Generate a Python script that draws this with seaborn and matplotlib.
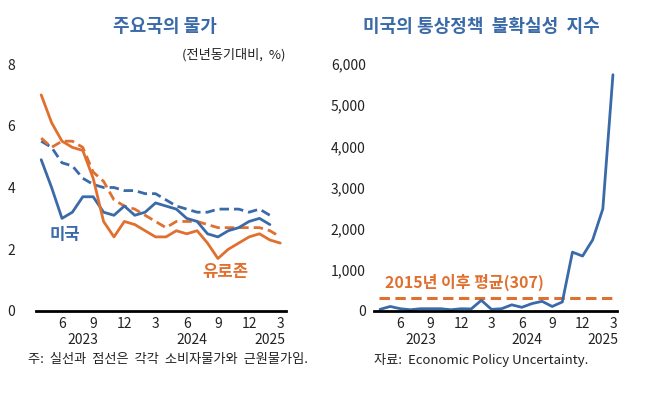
import matplotlib
matplotlib.use("Agg")
import matplotlib.pyplot as plt
import seaborn as sns
import pandas as pd
import numpy as np

# ---- data ----
months = ["2023-04", "2023-05", "2023-06", "2023-07", "2023-08", "2023-09", "2023-10", "2023-11",
          "2023-12", "2024-01", "2024-02", "2024-03", "2024-04", "2024-05", "2024-06", "2024-07",
          "2024-08", "2024-09", "2024-10", "2024-11", "2024-12", "2025-01", "2025-02", "2025-03"]
us_cpi = [4.9, 4.0, 3.0, 3.2, 3.7, 3.7, 3.2, 3.1, 3.4, 3.1, 3.2, 3.5, 3.4, 3.3, 3.0, 2.9,
          2.5, 2.4, 2.6, 2.7, 2.9, 3.0, 2.8, None]
us_core = [5.5, 5.3, 4.8, 4.7, 4.3, 4.1, 4.0, 4.0, 3.9, 3.9, 3.8, 3.8, 3.6, 3.4, 3.3, 3.2,
           3.2, 3.3, 3.3, 3.3, 3.2, 3.3, 3.1, None]
ez_cpi = [7.0, 6.1, 5.5, 5.3, 5.2, 4.3, 2.9, 2.4, 2.9, 2.8, 2.6, 2.4, 2.4, 2.6, 2.5, 2.6,
          2.2, 1.7, 2.0, 2.2, 2.4, 2.5, 2.3, 2.2]
ez_core = [5.6, 5.3, 5.5, 5.5, 5.3, 4.5, 4.2, 3.6, 3.4, 3.3, 3.1, 2.9, 2.7, 2.9, 2.9, 2.9,
           2.8, 2.7, 2.7, 2.7, 2.7, 2.7, 2.6, 2.4]
tpu = [40, 110, 55, 30, 55, 55, 55, 30, 55, 50, 260, 40, 55, 150, 90, 180,
       235, 110, 220, 1430, 1335, 1730, 2480, 5740]
tpu_avg = 307

month_ticks = [2, 5, 8, 11, 14, 17, 20, 23]
month_labels = ["6", "9", "12", "3", "6", "9", "12", "3"]
year_labels = ["2023", "2024", "2025"]
year_pos = [4.0, 14.5, 22.0]

BLUE = "#3b6aa8"
ORANGE = "#e0702f"

sns.set_theme(style="white")
plt.rcParams["font.family"] = ["Noto Sans CJK KR", "DejaVu Sans"]

idx = np.arange(len(months))
df = pd.DataFrame({"i": idx, "us_cpi": us_cpi, "us_core": us_core,
                   "ez_cpi": ez_cpi, "ez_core": ez_core, "tpu": tpu})
df = df.astype(float)

fig = plt.figure(figsize=(6.48, 3.94), dpi=100)
axL = fig.add_axes([36 / 648, 83 / 394, 250 / 648, 247 / 394])
axR = fig.add_axes([374 / 648, 83 / 394, 243 / 648, 247 / 394])

lw = 2.0
dash = (3.4, 1.8)
sns.lineplot(data=df, x="i", y="us_core", ax=axL, color=BLUE, lw=lw)
axL.lines[-1].set_dashes(dash)
sns.lineplot(data=df, x="i", y="ez_core", ax=axL, color=ORANGE, lw=lw)
axL.lines[-1].set_dashes(dash)
sns.lineplot(data=df, x="i", y="us_cpi", ax=axL, color=BLUE, lw=lw)
sns.lineplot(data=df, x="i", y="ez_cpi", ax=axL, color=ORANGE, lw=lw)

sns.lineplot(data=df, x="i", y="tpu", ax=axR, color=BLUE, lw=lw, zorder=3)
axR.hlines(tpu_avg, -0.1, 23.4, colors=ORANGE, lw=2.2, linestyles=(0, (3.4, 1.8)), zorder=2)

axL.set_xlim(-0.5, 23.55)
axL.set_ylim(0, 8)
axL.set_yticks([0, 2, 4, 6, 8])
axR.set_xlim(-0.6, 23.4)
axR.set_ylim(0, 6000)
axR.set_yticks(range(0, 7000, 1000))
axR.set_yticklabels([f"{v:,}" for v in range(0, 7000, 1000)])

for ax in (axL, axR):
    ax.set_xlabel("")
    ax.set_ylabel("")
    for s in ("top", "right", "left"):
        ax.spines[s].set_visible(False)
    ax.spines["bottom"].set_color("black")
    ax.spines["bottom"].set_linewidth(2.0)
    ax.spines["bottom"].set_zorder(5)
    ax.set_xticks(month_ticks)
    ax.set_xticklabels(month_labels)
    ax.tick_params(axis="both", length=0, labelsize=10, colors="#222222")
    ax.tick_params(axis="x", pad=4)
    ax.grid(False)
    trans = ax.get_xaxis_transform()
    for lab, p in zip(year_labels, year_pos):
        ax.text(p, -0.118, lab, transform=trans, ha="center", va="center",
                fontsize=10, color="#222222")

axL.tick_params(axis="y", pad=15)
axR.tick_params(axis="y", pad=6)

# titles
fig.text(165 / 648, 1 - 27 / 394, "주요국의 물가", ha="center", va="center",
         fontsize=13, fontweight="bold", color=BLUE)
fig.text(481 / 648, 1 - 27 / 394, "미국의 통상정책  불확실성  지수", ha="center", va="center",
         fontsize=13, fontweight="bold", color=BLUE)
fig.text(285 / 648, 1 - 55 / 394, "(전년동기대비,  %)", ha="right", va="center",
         fontsize=9.5, color="#222222")

# annotations
axL.text(2.3, 2.45, "미국", ha="center", va="center", fontsize=12,
         fontweight="bold", color=BLUE)
axL.text(17.7, 1.25, "유로존", ha="center", va="center", fontsize=12,
         fontweight="bold", color=ORANGE)
axR.text(0.5, 700, "2015년 이후 평균(307)", ha="left", va="center", fontsize=11.5,
         fontweight="bold", color=ORANGE)

# footnotes
fig.text(28 / 648, 1 - 360 / 394, "주:  실선과  점선은  각각  소비자물가와  근원물가임.",
         ha="left", va="center", fontsize=9.5, color="#222222")
fig.text(374 / 648, 1 - 360 / 394, "자료:  Economic Policy Uncertainty.",
         ha="left", va="center", fontsize=9.5, color="#222222")

fig.savefig("out.png", dpi=100, facecolor="white")
